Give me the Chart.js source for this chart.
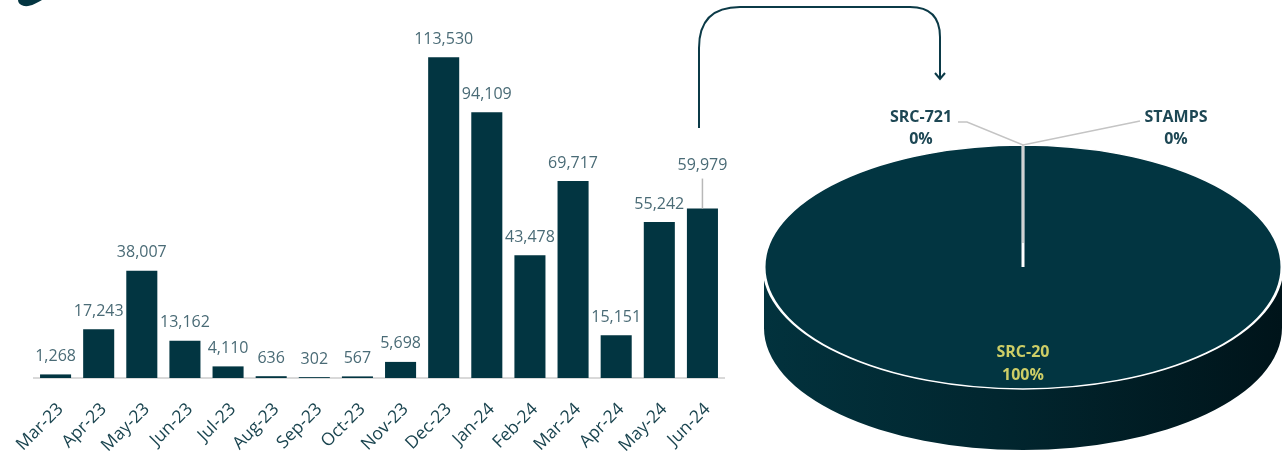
<!DOCTYPE html>
<html lang="en">
<head>
    <meta charset="UTF-8">
    <title>Monthly volume and token share</title>
    <script src="https://cdn.jsdelivr.net/npm/chart.js@4.4.1/dist/chart.umd.min.js"></script>
    <style>
        body {
            margin: 0;
            width: 1287px;
            height: 456px;
            overflow: hidden;
            background: #ffffff;
            font-family: 'Open Sans', sans-serif;
        }
        .box { position: absolute; top: 0; height: 456px; }
        #bar-box { left: 0; width: 740px; }
        #pie-box { left: 740px; width: 547px; }
        svg.deco { position: absolute; left: 0; top: 0; pointer-events: none; }
    </style>
</head>
<body>
    <div id="bar-box" class="box"><canvas id="bars"></canvas></div>
    <div id="pie-box" class="box"><canvas id="pie"></canvas></div>
    <svg class="deco" width="1287" height="456">
        <path d="M18,0 L42,0 C37,3 30,7 24,6 C20,5 18,3 18,0 Z" fill="#033541"/>
        <path d="M699,128 L699,48 Q699,7 740,7 L910,7 Q940,7 940,37 L940,79" fill="none" stroke="#0b3a47" stroke-width="2"/>
        <path d="M935,73 L940,79 L945,73" fill="none" stroke="#0b3a47" stroke-width="2"/>
    </svg>

    <script>
        // bar chart data
        const months = ['Mar-23', 'Apr-23', 'May-23', 'Jun-23', 'Jul-23', 'Aug-23', 'Sep-23', 'Oct-23',
                        'Nov-23', 'Dec-23', 'Jan-24', 'Feb-24', 'Mar-24', 'Apr-24', 'May-24', 'Jun-24'];
        const counts = [1268, 17243, 38007, 13162, 4110, 636, 302, 567,
                        5698, 113530, 94109, 43478, 69717, 15151, 55242, 59979];

        // pie data (share in %)
        const tokens = ['SRC-20', 'SRC-721', 'STAMPS'];
        const shares = [100, 0, 0];

        const DARK = '#023541';
        const FONT = "'Open Sans', sans-serif";
        const SQUASH = 0.471;   // vertical flattening of the pie
        const TOP_CY = 267;     // centre of the flattened top face
        const DEPTH = 61;       // thickness of the pie side

        const barLabels = {
            id: 'barLabels',
            afterDatasetsDraw(chart) {
                const ctx = chart.ctx;
                const bars = chart.getDatasetMeta(0).data;
                ctx.save();
                ctx.font = '16px ' + FONT;
                ctx.fillStyle = '#4a6b76';
                ctx.textAlign = 'center';
                ctx.textBaseline = 'middle';
                bars.forEach((bar, i) => {
                    let y = bar.y - 18;
                    if (i === bars.length - 1) {
                        // last label sits higher with a leader line
                        y = bar.y - 43;
                        ctx.strokeStyle = '#b8b8b8';
                        ctx.lineWidth = 1.5;
                        ctx.beginPath();
                        ctx.moveTo(bar.x, y + 13);
                        ctx.lineTo(bar.x, bar.y);
                        ctx.stroke();
                    }
                    ctx.fillText(counts[i].toLocaleString('en-US'), bar.x, y);
                });
                ctx.restore();
            }
        };

        new Chart(document.getElementById('bars'), {
            type: 'bar',
            data: {
                labels: months,
                datasets: [{
                    data: counts,
                    backgroundColor: DARK,
                    categoryPercentage: 1,
                    barPercentage: 0.72
                }]
            },
            options: {
                responsive: true,
                maintainAspectRatio: false,
                animation: false,
                layout: { padding: { left: 34, right: 16, top: 39, bottom: 0 } },
                plugins: { legend: { display: false }, tooltip: { enabled: false } },
                scales: {
                    x: {
                        offset: true,
                        grid: { display: false },
                        border: { display: true, color: '#d9d9d9', width: 2 },
                        ticks: {
                            color: '#1b4550',
                            font: { family: FONT, size: 17.5 },
                            minRotation: 45,
                            maxRotation: 45,
                            autoSkip: false,
                            padding: 13,
                            labelOffset: 5
                        },
                        afterFit: s => { s.height = 78; }
                    },
                    y: { display: false, min: 0, max: 120000 }
                }
            },
            plugins: [barLabels]
        });

        const tilt = {
            id: 'tilt',
            beforeDatasetsDraw(chart) {
                const ctx = chart.ctx;
                const arc = chart.getDatasetMeta(0).data[0];
                const r = arc.outerRadius;
                const ry = r * SQUASH;
                // side of the disc
                ctx.save();
                const g = ctx.createLinearGradient(arc.x - r, 0, arc.x + r, 0);
                g.addColorStop(0, '#02323d');
                g.addColorStop(0.45, '#01262f');
                g.addColorStop(1, '#00141a');
                ctx.fillStyle = g;
                ctx.beginPath();
                ctx.ellipse(arc.x, TOP_CY, r, ry, 0, 0, Math.PI);
                ctx.lineTo(arc.x - r, TOP_CY + DEPTH);
                ctx.ellipse(arc.x, TOP_CY + DEPTH, r, ry, 0, Math.PI, 0, true);
                ctx.closePath();
                ctx.fill();
                ctx.restore();
                // flatten the top face
                ctx.save();
                ctx.translate(0, TOP_CY);
                ctx.scale(1, SQUASH);
                ctx.translate(0, -arc.y);
            },
            afterDatasetsDraw(chart) {
                const ctx = chart.ctx;
                ctx.restore();
                const arc = chart.getDatasetMeta(0).data[0];
                const topY = TOP_CY - arc.outerRadius * SQUASH;
                const x = arc.x;

                ctx.save();
                ctx.strokeStyle = '#c4c4c4';
                ctx.lineWidth = 1.5;
                ctx.beginPath();
                ctx.moveTo(x, topY + 98);
                ctx.lineTo(x, topY);
                ctx.moveTo(x - 65, topY - 23);
                ctx.lineTo(x - 56, topY - 23);
                ctx.lineTo(x, topY);
                ctx.lineTo(x + 117, topY - 24);
                ctx.stroke();

                ctx.font = 'bold 16px ' + FONT;
                ctx.textAlign = 'center';
                ctx.textBaseline = 'middle';
                ctx.fillStyle = '#1d4754';
                ctx.fillText(tokens[1], x - 102, topY - 28);
                ctx.fillText(shares[1] + '%', x - 102, topY - 6);
                ctx.fillText(tokens[2], x + 153, topY - 28);
                ctx.fillText(shares[2] + '%', x + 153, topY - 6);

                ctx.fillStyle = '#cdcd66';
                ctx.fillText(tokens[0], x, TOP_CY + 85);
                ctx.fillText(shares[0] + '%', x, TOP_CY + 108);
                ctx.restore();
            }
        };

        new Chart(document.getElementById('pie'), {
            type: 'pie',
            data: {
                labels: tokens,
                datasets: [{
                    data: shares,
                    backgroundColor: [DARK, '#5b7f8a', '#9db5bc'],
                    borderColor: '#ffffff',
                    borderWidth: 3,
                    radius: 259,
                    clip: false
                }]
            },
            options: {
                responsive: true,
                maintainAspectRatio: false,
                animation: false,
                layout: { padding: { left: 19 } },
                plugins: { legend: { display: false }, tooltip: { enabled: false } }
            },
            plugins: [tilt]
        });
    </script>
</body>
</html>
